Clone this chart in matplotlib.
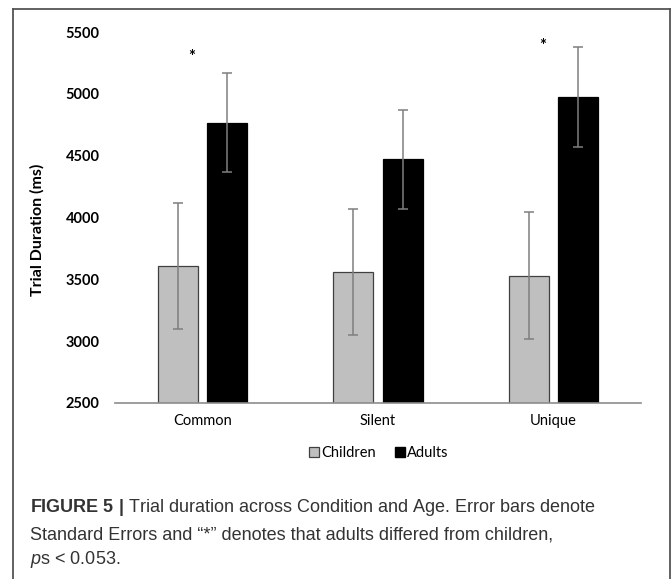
import matplotlib
matplotlib.use("Agg")
import matplotlib.pyplot as plt
from matplotlib.patches import Patch
from matplotlib.lines import Line2D
import numpy as np

# values
conditions = ["Common", "Silent", "Unique"]
children_mean = [3610, 3560, 3530]
children_se = [510, 510, 515]
adults_mean = [4765, 4470, 4975]
adults_se = [400, 400, 405]
significant = [True, False, True]
y_ticks = [2500, 3000, 3500, 4000, 4500, 5000, 5500]

tick_font = "Lato"
cap_font = "Liberation Sans"
plt.rcParams["mathtext.fontset"] = "custom"
plt.rcParams["mathtext.rm"] = cap_font
plt.rcParams["mathtext.bf"] = cap_font + ":bold"
plt.rcParams["mathtext.it"] = cap_font + ":italic"

fig = plt.figure(figsize=(6.72, 5.79), dpi=100)

# outer frame (top, left, right)
fx0, fx1, fy = 13 / 672, 670 / 672, 1 - 9 / 579
for xs, ys in (([fx0, fx0], [0, fy]), ([fx1, fx1], [0, fy]), ([fx0, fx1], [fy, fy])):
    fig.add_artist(Line2D(xs, ys, color="#555555", lw=1.3))

ax = fig.add_axes([115 / 672, 1 - 403 / 579, 526 / 672, 371 / 579])
x = np.arange(len(conditions))
w = 0.228
off = 0.14
ebar = dict(ecolor="#7f7f7f", elinewidth=1.1, capsize=3.5, capthick=1.1)
ax.bar(x - off, children_mean, w, color="#bfbfbf", edgecolor="#404040", lw=0.9,
       yerr=children_se, error_kw=ebar, label="Children")
ax.bar(x + off, adults_mean, w, color="black", edgecolor="black", lw=0.9,
       yerr=adults_se, error_kw=ebar, label="Adults")

# significance markers
star_y = [5300, None, 5385]
for i, s in enumerate(significant):
    if s:
        ax.text(i - 0.06, star_y[i], "*", ha="center", va="center",
                fontsize=12, fontweight="bold", family=tick_font)

ax.set_xlim(-0.5, 2.5)
ax.set_ylim(2500, 5500)
ax.set_yticks(y_ticks)
ax.set_yticklabels([str(t) for t in y_ticks], fontsize=10.5, fontweight="bold",
                   family=tick_font)
ax.set_xticks(x)
ax.set_xticklabels(conditions, fontsize=10.5, family=tick_font)
ax.tick_params(axis="y", length=0, pad=11)
ax.tick_params(axis="x", length=0, pad=8)
for side in ("top", "right", "left"):
    ax.spines[side].set_visible(False)
ax.spines["bottom"].set_color("#8c8c8c")
ax.spines["bottom"].set_linewidth(1.2)
ax.set_ylabel("Trial Duration (ms)", fontsize=11.5, fontweight="bold",
              family=tick_font)
ax.yaxis.set_label_coords(-0.133, 0.466)

handles = [Patch(facecolor="#bfbfbf", edgecolor="#404040", lw=0.9),
           Patch(facecolor="black", edgecolor="black")]
fig.legend(handles, ["Children", "Adults"], loc="center",
           bbox_to_anchor=(379 / 672, 1 - 453 / 579), ncol=2, frameon=False,
           prop={"family": tick_font, "size": 10.5}, handlelength=0.65,
           handleheight=0.65, handletextpad=0.2, columnspacing=1.3)

# caption
cap_color = "#333333"
cap_kw = dict(fontsize=13, color=cap_color, family=cap_font, va="center")
fig.text(30 / 672, 1 - 508 / 579,
         r"$\mathbf{FIGURE\ 5\ |}$ Trial duration across Condition and Age. Error bars denote",
         **cap_kw)
fig.text(30 / 672, 1 - 535 / 579,
         "Standard Errors and \u201c*\u201d denotes that adults differed from children,",
         **cap_kw)
fig.text(30 / 672, 1 - 560 / 579, r"$\mathit{p}$s < 0.053.", **cap_kw)

fig.savefig("out.png", dpi=100)
